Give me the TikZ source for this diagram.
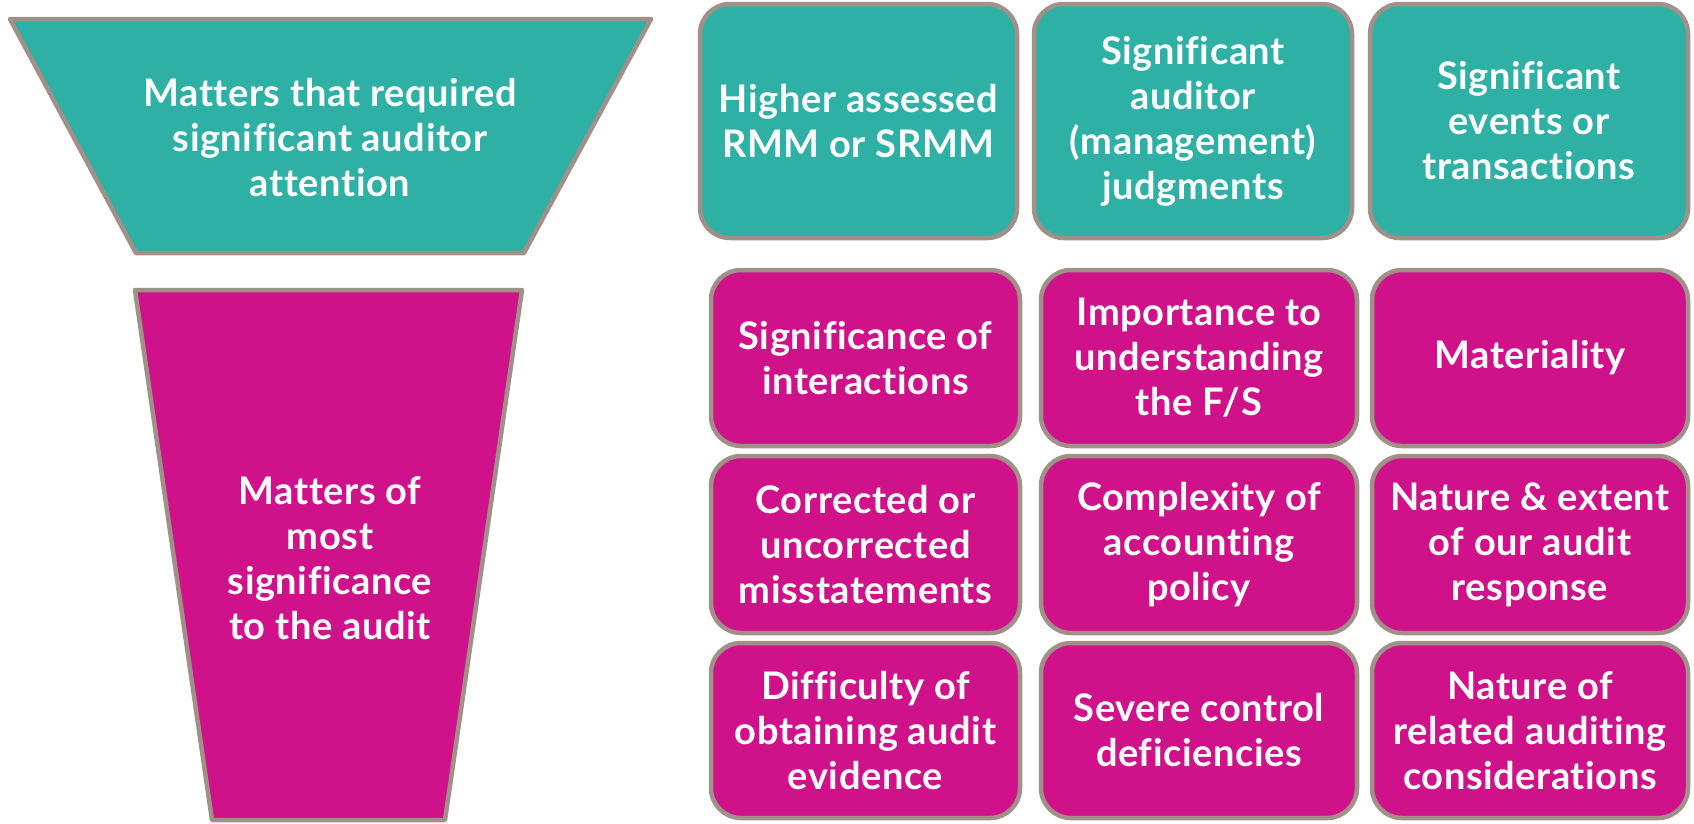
\documentclass[tikz,border=0pt]{standalone}
\usepackage{fontspec}
\setmainfont{Lato}[LetterSpace=1.5,Ligatures=NoCommon]
\definecolor{tealc}{HTML}{2EB0A4}
\definecolor{magc}{HTML}{D0128A}
\definecolor{edgec}{HTML}{A09088}
\begin{document}
\begin{tikzpicture}[x=1pt,y=-1pt,
  shapeline/.style={draw=edgec,line width=4.5pt,line join=round},
  boxbase/.style={shapeline,rounded corners=30pt,text=white,align=center,
    font=\fontsize{38}{45}\selectfont\bfseries,inner sep=0pt},
  tbox/.style={boxbase,fill=tealc},
  mbox/.style={boxbase,fill=magc},
  lbl/.style={text=white,align=center,font=\fontsize{38}{45}\selectfont\bfseries,inner sep=0pt}]
\useasboundingbox (0,0) rectangle (1694,823);
% funnel shapes
\draw[shapeline,fill=tealc] (10,19) -- (651,19) -- (524,253) -- (136,253) -- cycle;
\draw[shapeline,fill=magc] (135,290) -- (522,290) -- (445,820) -- (212,820) -- cycle;
\node[lbl] (ftop) at (330,138) {Matters that required\\significant auditor\\attention};
\node[lbl] (fbot) at (330,558) {Matters of\\most\\significance\\to the audit};
% teal row
\node[tbox,minimum width=317pt,minimum height=234pt] (t1) at (858.5,121) {Higher assessed\\RMM or SRMM};
\node[tbox,minimum width=318pt,minimum height=234pt] (t2) at (1193,121) {Significant\\auditor\\(management)\\judgments};
\node[tbox,minimum width=318pt,minimum height=234pt] (t3) at (1529,121) {Significant\\events or\\transactions};
% magenta rows
\node[mbox,minimum width=309pt,minimum height=176pt] (m11) at (865.5,358) {Significance of\\interactions};
\node[mbox,minimum width=316pt,minimum height=176pt] (m12) at (1199,358) {Importance to\\understanding\\the F/S};
\node[mbox,minimum width=316pt,minimum height=176pt] (m13) at (1530,358) {Materiality};
\node[mbox,minimum width=309pt,minimum height=177pt] (m21) at (865.5,544.5) {Corrected or\\uncorrected\\misstatements};
\node[mbox,minimum width=316pt,minimum height=177pt] (m22) at (1199,544.5) {Complexity of\\accounting\\policy};
\node[mbox,minimum width=316pt,minimum height=177pt] (m23) at (1530,544.5) {Nature \& extent\\of our audit\\response};
\node[mbox,minimum width=309pt,minimum height=175pt] (m31) at (865.5,730.5) {Difficulty of\\obtaining audit\\evidence};
\node[mbox,minimum width=316pt,minimum height=175pt] (m32) at (1199,730.5) {Severe control\\deficiencies};
\node[mbox,minimum width=316pt,minimum height=175pt] (m33) at (1530,730.5) {Nature of\\related auditing\\considerations};
\end{tikzpicture}
\end{document}
